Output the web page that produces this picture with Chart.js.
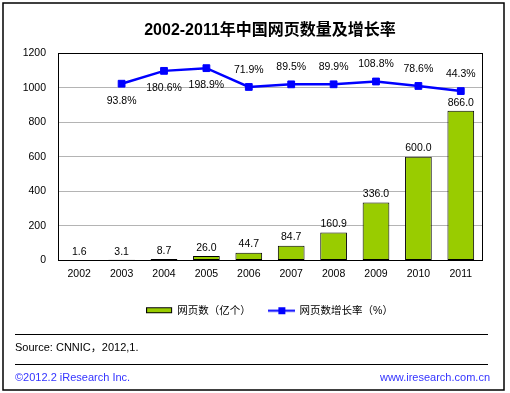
<!DOCTYPE html>
<html>
<head>
<meta charset="utf-8">
<script src="https://cdn.jsdelivr.net/npm/chart.js@4/dist/chart.umd.min.js"></script>
<style>
  body { margin: 0; background: #fff; }
  #chart { display: block; }
</style>
</head>
<body>
<canvas id="chart" width="510" height="393"></canvas>
<script>
// data
var years = ["2002", "2003", "2004", "2005", "2006", "2007", "2008", "2009", "2010", "2011"];
var pages = [1.6, 3.1, 8.7, 26.0, 44.7, 84.7, 160.9, 336.0, 600.0, 866.0];
var growth = [null, 93.8, 180.6, 198.9, 71.9, 89.5, 89.9, 108.8, 78.6, 44.3];
// where each growth label sits relative to its point
var growthLabelSide = ["", "below", "below", "below", "above", "above", "above", "above", "above", "above"];
var yTicks = [0, 200, 400, 600, 800, 1000, 1200];

var TITLE = "2002-2011年中国网页数量及增长率";
var SOURCE = "Source: CNNIC，2012,1.";
var FONT = "'Liberation Sans', 'Noto Sans CJK SC', sans-serif";
var BAR_GREEN = "#99cc00";
var LINE_BLUE = "#0000ff";

// legend swatches drawn as small images
function makeSwatch(kind) {
    var c = document.createElement("canvas");
    c.width = 27;
    c.height = 9;
    var g = c.getContext("2d");
    if (kind == "bar") {
        g.fillStyle = BAR_GREEN;
        g.fillRect(1, 2, 25, 5);
        g.strokeStyle = "#000";
        g.lineWidth = 1;
        g.strokeRect(0.5, 1.5, 25, 5);
    } else {
        g.strokeStyle = LINE_BLUE;
        g.lineWidth = 2;
        g.beginPath();
        g.moveTo(0, 4.5);
        g.lineTo(27, 4.5);
        g.stroke();
        g.fillStyle = LINE_BLUE;
        g.fillRect(10, 1, 7, 7);
    }
    return c;
}
var swatches = [makeSwatch("bar"), makeSwatch("line")];

var valueLabels = {
    id: "valueLabels",
    afterDatasetsDraw: function (chart) {
        var ctx = chart.ctx;
        ctx.save();
        ctx.font = "10.5px " + FONT;
        ctx.fillStyle = "#000";
        ctx.textAlign = "center";

        //bar values
        ctx.textBaseline = "bottom";
        chart.getDatasetMeta(0).data.forEach(function (bar, i) {
            ctx.fillText(pages[i].toFixed(1), bar.x, bar.y - 3);
        });

        //growth values
        ctx.textBaseline = "middle";
        chart.getDatasetMeta(1).data.forEach(function (pt, i) {
            if (growth[i] == null) return;
            var dy = growthLabelSide[i] == "below" ? 17 : -17;
            ctx.fillText(growth[i].toFixed(1) + "%", pt.x, pt.y + dy);
        });
        ctx.restore();
    }
};

var frameAndFooter = {
    id: "frameAndFooter",
    beforeDatasetsDraw: function (chart) {
        var a = chart.chartArea;
        var ctx = chart.ctx;
        ctx.save();
        ctx.strokeStyle = "#000";
        ctx.lineWidth = 1;
        ctx.strokeRect(Math.round(a.left) + 0.5, Math.round(a.top) + 0.5, Math.round(a.right - a.left), Math.round(a.bottom - a.top));
        ctx.restore();
    },
    afterDraw: function (chart) {
        var ctx = chart.ctx;
        ctx.save();
        ctx.strokeStyle = "#000";
        ctx.lineWidth = 1.5;
        ctx.strokeRect(3, 3, 501, 387);

        ctx.lineWidth = 1;
        ctx.beginPath();
        ctx.moveTo(15, 334.5);
        ctx.lineTo(488, 334.5);
        ctx.moveTo(15, 364.5);
        ctx.lineTo(488, 364.5);
        ctx.stroke();

        ctx.font = "11px " + FONT;
        ctx.textBaseline = "middle";
        ctx.textAlign = "left";
        ctx.fillStyle = "#000";
        ctx.fillText(SOURCE, 15, 348);

        ctx.fillStyle = "#3333ff";
        ctx.fillText("©2012.2 iResearch Inc.", 15, 378);
        ctx.textAlign = "right";
        ctx.fillText("www.iresearch.com.cn", 490, 378);
        ctx.restore();
    }
};

var chart = new Chart(document.getElementById("chart").getContext("2d"), {
    data: {
        labels: years,
        datasets: [{
            type: "bar",
            label: "网页数（亿个）",
            data: pages,
            backgroundColor: BAR_GREEN,
            borderColor: "#000",
            borderWidth: 1,
            borderSkipped: false,
            categoryPercentage: 1.0,
            barPercentage: 0.63,
            yAxisID: "y",
            order: 2
        }, {
            type: "line",
            label: "网页数增长率（%）",
            data: growth,
            borderColor: LINE_BLUE,
            backgroundColor: LINE_BLUE,
            borderWidth: 2.5,
            pointStyle: "rect",
            pointRadius: 4.8,
            pointBorderWidth: 1,
            tension: 0,
            yAxisID: "y1",
            order: 1
        }]
    },
    options: {
        responsive: false,
        animation: false,
        layout: {
            padding: { top: 12, left: 0, right: 28, bottom: 67 }
        },
        plugins: {
            title: {
                display: true,
                fullSize: false,
                text: TITLE,
                color: "#000",
                font: { family: FONT, size: 16, weight: "bold" },
                padding: { top: 9, bottom: 13 }
            },
            legend: {
                position: "bottom",
                fullSize: false,
                labels: {
                    color: "#000",
                    font: { family: FONT, size: 10.5 },
                    usePointStyle: true,
                    pointStyleWidth: 25,
                    boxHeight: 9,
                    padding: 18.5,
                    sort: function (a, b) { return a.datasetIndex - b.datasetIndex; },
                    generateLabels: function (chart) {
                        var items = Chart.defaults.plugins.legend.labels.generateLabels(chart);
                        items.forEach(function (it) {
                            it.pointStyle = swatches[it.datasetIndex];
                        });
                        return items;
                    }
                }
            },
            tooltip: { enabled: false }
        },
        scales: {
            x: {
                grid: { display: false, drawTicks: false },
                border: { color: "#000" },
                ticks: { color: "#000", font: { family: FONT, size: 10.5 }, padding: 7 }
            },
            y: {
                min: 0,
                max: 1200,
                afterBuildTicks: function (scale) {
                    scale.ticks = yTicks.map(function (v) { return { value: v }; });
                },
                afterFit: function (scale) { scale.width = 58; },
                grid: { color: "#b4b4b4", drawTicks: false },
                border: { color: "#000" },
                ticks: {
                    color: "#000",
                    font: { family: FONT, size: 10.5 },
                    padding: 12,
                    callback: function (v) { return String(v); }
                }
            },
            y1: {
                display: false,
                min: -1100,
                max: 300
            }
        }
    },
    plugins: [valueLabels, frameAndFooter]
});
</script>
</body>
</html>
